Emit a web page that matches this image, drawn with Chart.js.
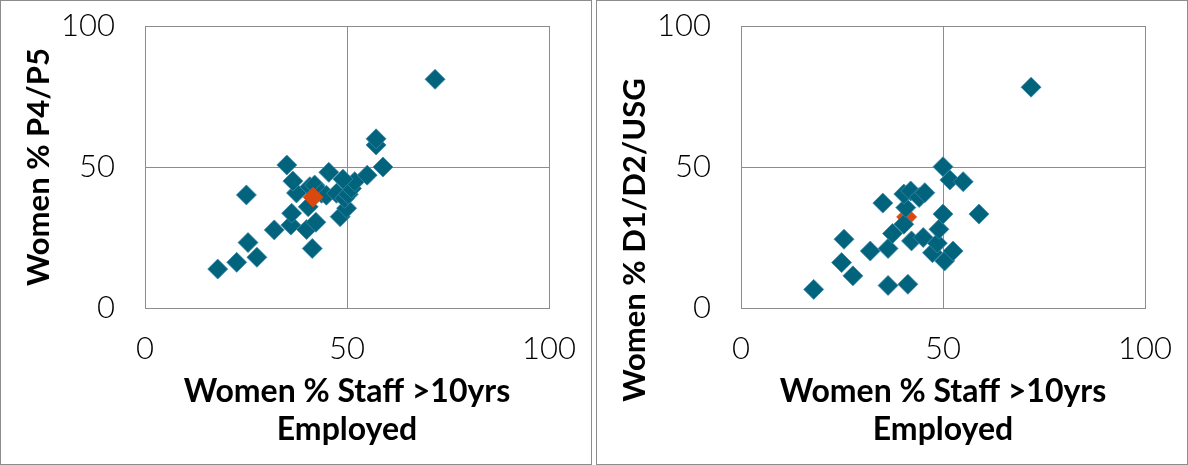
<!DOCTYPE html>
<html>
<head>
<meta charset="utf-8">
<script src="https://cdn.jsdelivr.net/npm/chart.js@4/dist/chart.umd.min.js"></script>
<style>
  html, body { margin: 0; padding: 0; background: #fff; }
  .panel { position: absolute; top: 0; width: 592px; height: 465px; border: 1px solid #8c8c8c; box-sizing: border-box; background: #fff; }
  #p1 { left: 0; }
  #p2 { left: 596px; }
  canvas { display: block; }
</style>
</head>
<body>
<div class="panel" id="p1"><canvas id="c1" width="590" height="463"></canvas></div>
<div class="panel" id="p2"><canvas id="c2" width="590" height="463"></canvas></div>
<script>
// Tick labels
const tickValues = [0, 50, 100];

// Left chart: Women % Staff >10yrs Employed vs Women % P4/P5
const leftX = [18.0, 22.7, 27.7, 25.5, 25.1, 32.0, 36.1, 36.3, 40.0, 42.3, 41.4, 40.4, 37.5, 36.6, 35.1, 40.8, 42.0, 43.7, 44.9, 45.5, 47.4, 48.3, 49.9, 49.4, 50.3, 51.1, 51.9, 49.0, 55.0, 58.9, 57.2, 57.2, 71.8];
const leftY = [13.8, 16.2, 18.0, 23.2, 40.1, 27.7, 29.4, 33.6, 27.8, 30.4, 21.1, 35.9, 40.8, 45.0, 50.7, 43.0, 43.6, 40.7, 40.0, 48.1, 40.7, 32.4, 35.4, 38.9, 40.3, 42.4, 44.8, 45.7, 47.1, 50.0, 57.8, 60.0, 81.1];
const leftHighlightX = [41.6];
const leftHighlightY = [39.3];

// Right chart: Women % Staff >10yrs Employed vs Women % D1/D2/USG
const rightX = [18.0, 24.9, 25.5, 27.7, 32.0, 36.4, 41.3, 36.4, 37.5, 40.3, 42.2, 45.1, 47.4, 48.6, 49.0, 50.4, 52.5, 50.0, 58.9, 35.1, 40.8, 40.3, 42.0, 44.1, 45.5, 50.0, 51.7, 55.0, 71.8];
const rightY = [6.6, 16.1, 24.4, 11.4, 20.2, 8.0, 8.4, 21.1, 26.4, 29.7, 23.8, 25.0, 19.6, 23.0, 27.9, 16.7, 20.2, 33.3, 33.3, 37.2, 35.6, 40.4, 41.5, 39.2, 40.9, 50.1, 45.4, 44.8, 78.3];
const rightHighlightX = [41.0];
const rightHighlightY = [32.3];

const xTitle = ['Women % Staff >10yrs', 'Employed'];
const leftYTitle = 'Women % P4/P5';
const rightYTitle = 'Women % D1/D2/USG';

const TEAL = '#01647C';
const ORANGE = '#D9480F';
const GRID = '#8c8c8c';

function pts(xs, ys) { return xs.map((x, i) => ({ x: x, y: ys[i] })); }

// Draws a y-axis title centred at a given vertical position (the right panel's
// title sits lower than the plot centre in the original).
const offsetYTitle = {
  id: 'offsetYTitle',
  afterDraw(chart, args, opts) {
    if (!opts || !opts.text) return;
    const ctx = chart.ctx;
    ctx.save();
    ctx.translate(opts.x, opts.y);
    ctx.rotate(-Math.PI / 2);
    ctx.font = 'bold 31px Lato';
    ctx.fillStyle = '#000';
    ctx.textAlign = 'center';
    ctx.textBaseline = 'middle';
    ctx.fillText(opts.text, 0, 0);
    ctx.restore();
  }
};

function makeChart(id, xs, ys, hx, hy, yTitle, highlightOnTop, customTitle) {
  const main = {
    label: 'Agencies',
    data: pts(xs, ys),
    pointStyle: 'rectRot',
    pointRadius: 10,
    pointHoverRadius: 10,
    backgroundColor: TEAL,
    borderColor: '#3d86aa',
    borderWidth: 0.8,
    order: highlightOnTop ? 2 : 1
  };
  const hl = {
    label: 'Highlight',
    data: pts(hx, hy),
    pointStyle: 'rectRot',
    pointRadius: 10,
    pointHoverRadius: 10,
    backgroundColor: ORANGE,
    borderColor: ORANGE,
    borderWidth: 0.8,
    order: highlightOnTop ? 1 : 2
  };
  return new Chart(document.getElementById(id), {
    type: 'scatter',
    data: { datasets: [main, hl] },
    plugins: [offsetYTitle],
    options: {
      responsive: false,
      animation: false,
      devicePixelRatio: 1,
      layout: { padding: { top: 25, right: 42, left: 0, bottom: 0 } },
      plugins: {
        legend: { display: false },
        tooltip: { enabled: false },
        offsetYTitle: customTitle ? { text: yTitle, x: 38, y: 239 } : { text: '' }
      },
      scales: {
        x: {
          type: 'linear', min: 0, max: 100,
          afterBuildTicks: (s) => { s.ticks = tickValues.map(v => ({ value: v })); },
          afterFit: (s) => { s.height = 156; s.paddingLeft = 0; s.paddingRight = 0; },
          grid: { color: GRID, lineWidth: 1, drawTicks: false },
          border: { display: true, color: GRID, width: 1 },
          ticks: { padding: 22, color: '#000', font: { family: 'Lato', weight: 300, size: 31, lineHeight: 1.2 }, maxRotation: 0 },
          title: { display: true, text: xTitle, color: '#000', padding: { top: 0, bottom: 15 }, font: { family: 'Lato', weight: 'bold', size: 32, lineHeight: 1.19 } }
        },
        y: {
          type: 'linear', min: 0, max: 100,
          afterBuildTicks: (s) => { s.ticks = tickValues.map(v => ({ value: v })); },
          afterFit: (s) => { s.width = 144; s.paddingTop = 0; s.paddingBottom = 0; },
          grid: { color: GRID, lineWidth: 1, drawTicks: false },
          border: { display: true, color: GRID, width: 1 },
          ticks: { padding: 30, color: '#000', font: { family: 'Lato', weight: 300, size: 31, lineHeight: 1.2 } },
          title: { display: !customTitle, text: yTitle, color: '#000', padding: { top: 19, bottom: 0 }, font: { family: 'Lato', weight: 'bold', size: 31, lineHeight: 1.2 } }
        }
      }
    }
  });
}

makeChart('c1', leftX, leftY, leftHighlightX, leftHighlightY, leftYTitle, true, false);
makeChart('c2', rightX, rightY, rightHighlightX, rightHighlightY, rightYTitle, false, true);
</script>
</body>
</html>
